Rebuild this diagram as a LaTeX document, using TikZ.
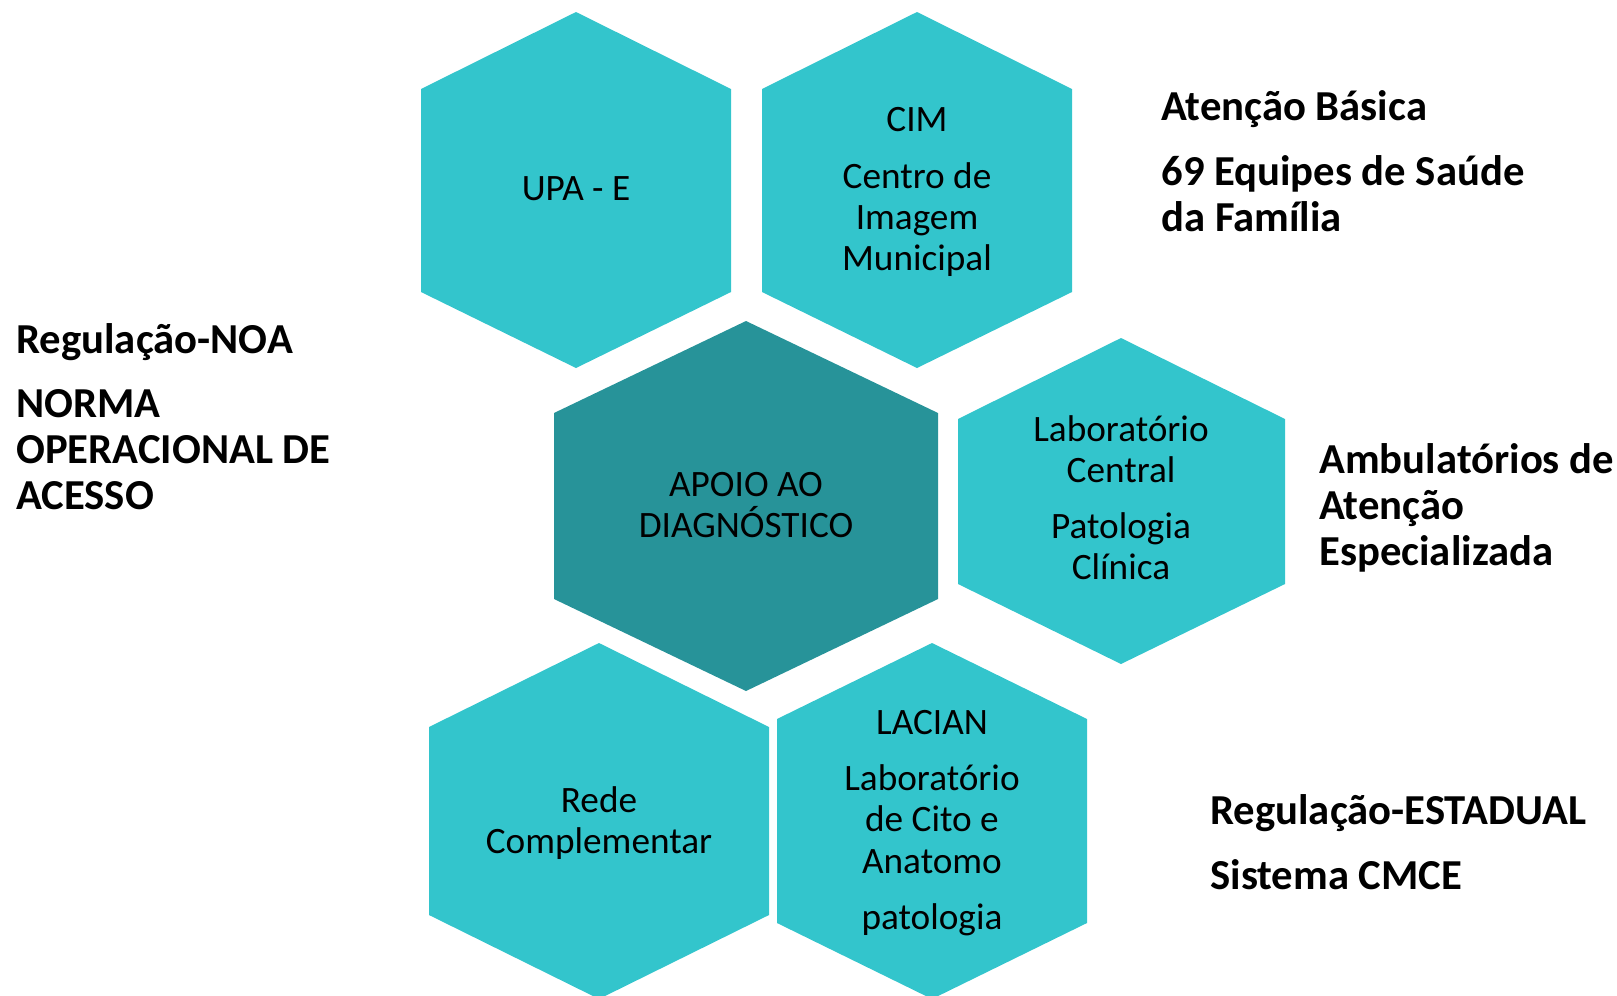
\documentclass[tikz,border=0pt]{standalone}
\usepackage{fontspec}
\setmainfont{Carlito}
\usepackage{tikz}
\usetikzlibrary{positioning}
\usetikzlibrary{calc}
\definecolor{hexlight}{HTML}{33C5CC}
\definecolor{hexdeep}{HTML}{279399}
\tikzset{
	%Define style for the light cells
	hexa/.style={fill=hexlight},
	%Define style for the central cell
	hexcentral/.style={fill=hexdeep},
	%Define style for the text inside the cells
	celltext/.style={
		align=center,
		inner sep=0pt,
		font=\fontsize{21.2}{23.4}\selectfont},
	% Define style for the side labels
	sidetext/.style={
		align=left,
		anchor=west,
		inner sep=0pt,
		font=\bfseries\fontsize{24.3}{26.2}\selectfont}
}
\begin{document}
\begin{tikzpicture}[x=0.02cm,y=-0.02cm]
	\useasboundingbox (0,0) rectangle (1617,995);
	% cells
	\fill[hexa] (576,12) -- (731,89) -- (731,292) -- (576,368) -- (421,292) -- (421,89) -- cycle;
	\fill[hexa] (917,12) -- (1072,89) -- (1072,292) -- (917,368) -- (762,292) -- (762,89) -- cycle;
	\fill[hexcentral] (746,321) -- (938,413) -- (938,599) -- (746,691) -- (554,599) -- (554,413) -- cycle;
	\fill[hexa] (1121,338) -- (1285,419) -- (1285,584) -- (1121,664) -- (958,584) -- (958,419) -- cycle;
	\fill[hexa] (599,643) -- (769,727) -- (769,915) -- (599,999) -- (429,915) -- (429,727) -- cycle;
	\fill[hexa] (932,643) -- (1087,719) -- (1087,923) -- (932,999) -- (777,923) -- (777,719) -- cycle;
	% node UPA
	\node[celltext] (upa) at (576,189) {UPA - E};
	% node CIM
	\node[celltext] (cim) at (917,192) {CIM\\[8.5pt] Centro de\\ Imagem\\ Municipal};
	% node central
	\node[celltext] (apoio) at (746,505) {APOIO AO\\ DIAGNÓSTICO};
	% node Laboratorio Central
	\node[celltext] (labcentral) at (1121,498) {Laboratório\\ Central\\[8.5pt] Patologia\\ Clínica};
	% node Rede
	\node[celltext] (rede) at (599,823) {Rede\\ Complementar};
	% node LACIAN
	\node[celltext] (lacian) at (932,823) {LACIAN\\[8.5pt] Laboratório\\ de Cito e\\ Anatomo\\[8.5pt] patologia};
	% side labels
	\node[sidetext] (noa) at (16,417) {Regulação-NOA\\[10.2pt] NORMA\\ OPERACIONAL DE\\ ACESSO};
	\node[sidetext] (basica) at (1161,161) {Atenção Básica\\[10.8pt] 69 Equipes de Saúde\\ da Família};
	\node[sidetext] (ambulatorios) at (1319,508) {Ambulatórios de\\ Atenção\\ Especializada};
	\node[sidetext] (estadual) at (1210,842) {Regulação-ESTADUAL\\[10.8pt] Sistema CMCE};
\end{tikzpicture}
\end{document}
